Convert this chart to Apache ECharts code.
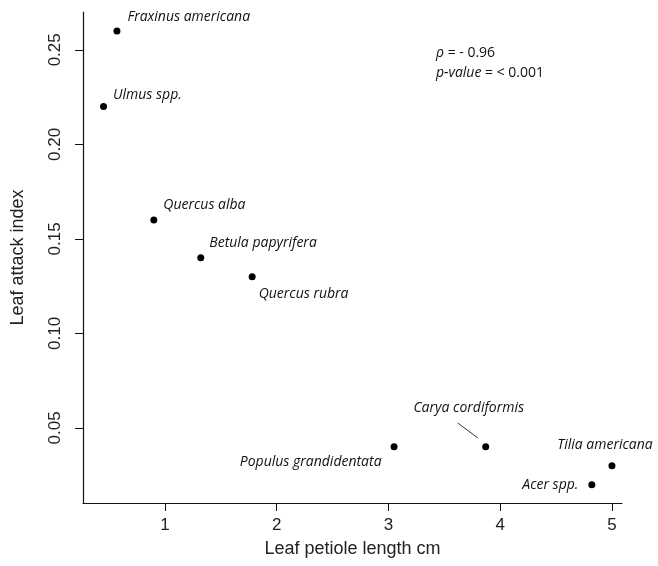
<!DOCTYPE html>
<html>
<head>
<meta charset="utf-8">
<script src="https://cdn.jsdelivr.net/npm/echarts@6/dist/echarts.min.js"></script>
<style>
  html, body { margin: 0; padding: 0; background: #fff; }
  #chart { width: 658px; height: 566px; }
</style>
</head>
<body>
<div id="chart"></div>
<script>
// species names + values
var species = ['Fraxinus americana', 'Ulmus spp.', 'Quercus alba', 'Betula papyrifera', 'Quercus rubra',
               'Populus grandidentata', 'Carya cordiformis', 'Tilia americana', 'Acer spp.'];
var petiole = [0.57, 0.45, 0.90, 1.32, 1.78, 3.05, 3.87, 5.00, 4.82];
var attack  = [0.26, 0.22, 0.16, 0.14, 0.13, 0.04, 0.04, 0.03, 0.02];
var xTicks = [1, 2, 3, 4, 5];
var yTicks = [0.05, 0.10, 0.15, 0.20, 0.25];

// where each name sits relative to its dot
var labelPlace = {
    'Fraxinus americana':    { position: 'right', offset: [2, -14] },
    'Ulmus spp.':            { position: 'right', offset: [1, -12] },
    'Quercus alba':          { position: 'right', offset: [1, -15] },
    'Betula papyrifera':     { position: 'right', offset: [0, -15] },
    'Quercus rubra':         { position: 'right', offset: [-2, 17] },
    'Populus grandidentata': { position: 'left',  offset: [-4, 15] },
    'Carya cordiformis':     { position: 'top',   offset: [-17, -23] },
    'Tilia americana':       { position: 'top',   offset: [-7, -5] },
    'Acer spp.':             { position: 'left',  offset: [-5, 0] }
};

var pts = [];
for (var i = 0; i < species.length; i++) {
    var pl = labelPlace[species[i]];
    pts.push({
        name: species[i],
        value: [petiole[i], attack[i]],
        label: { position: pl.position, offset: pl.offset }
    });
}

var axisFont = { fontFamily: 'Liberation Sans', fontSize: 17, color: '#222' };

var option = {
    animation: false,
    backgroundColor: '#fff',
    grid: { left: 83, top: 12, right: 36, bottom: 63, containLabel: false },
    xAxis: {
        type: 'value',
        min: 0.266,
        max: 5.09,
        name: 'Leaf petiole length cm',
        nameLocation: 'middle',
        nameGap: 37,
        nameTextStyle: { fontFamily: 'Liberation Sans', fontSize: 18, color: '#222' },
        axisLine: { show: true, lineStyle: { color: '#111', width: 1.2 } },
        axisTick: { show: true, customValues: xTicks, length: 8, lineStyle: { color: '#111' } },
        axisLabel: {
            customValues: xTicks,
            margin: 14,
            fontFamily: axisFont.fontFamily, fontSize: axisFont.fontSize, color: axisFont.color
        },
        splitLine: { show: false }
    },
    yAxis: {
        type: 'value',
        min: 0.0103,
        max: 0.27,
        name: 'Leaf attack index',
        nameLocation: 'middle',
        nameGap: 56,
        nameRotate: 90,
        nameTextStyle: { fontFamily: 'Liberation Sans', fontSize: 18, color: '#222' },
        axisLine: { show: true, lineStyle: { color: '#111', width: 1.2 } },
        axisTick: { show: true, customValues: yTicks, length: 8, lineStyle: { color: '#111' } },
        axisLabel: {
            customValues: yTicks,
            rotate: 90,
            margin: 19,
            formatter: function (v) { return v.toFixed(2); },
            fontFamily: axisFont.fontFamily, fontSize: axisFont.fontSize, color: axisFont.color
        },
        splitLine: { show: false }
    },
    graphic: [
        {
            type: 'text',
            left: 436,
            top: 43,
            style: {
                text: '{i|ρ} = - 0.96\n{i|p-value} = < 0.001',
                fontFamily: 'Open Sans',
                fontSize: 14,
                lineHeight: 20,
                fill: '#111',
                rich: {
                    i: { fontStyle: 'italic', fontFamily: 'Open Sans', fontSize: 14, fill: '#111' }
                }
            }
        }
    ],
    series: [
        {
            type: 'scatter',
            symbol: 'circle',
            symbolSize: 7,
            itemStyle: { color: '#000', opacity: 1 },
            label: {
                show: true,
                formatter: '{b}',
                fontFamily: 'Open Sans',
                fontStyle: 'italic',
                fontSize: 14,
                color: '#111'
            },
            data: pts,
            markLine: {
                silent: true,
                symbol: 'none',
                label: { show: false },
                lineStyle: { color: '#333', width: 1, type: 'solid' },
                data: [
                    [{ coord: [3.62, 0.0526] }, { coord: [3.80, 0.0447] }]
                ]
            }
        }
    ]
};

var myChart = echarts.init(document.getElementById('chart'));
myChart.setOption(option);
</script>
</body>
</html>
